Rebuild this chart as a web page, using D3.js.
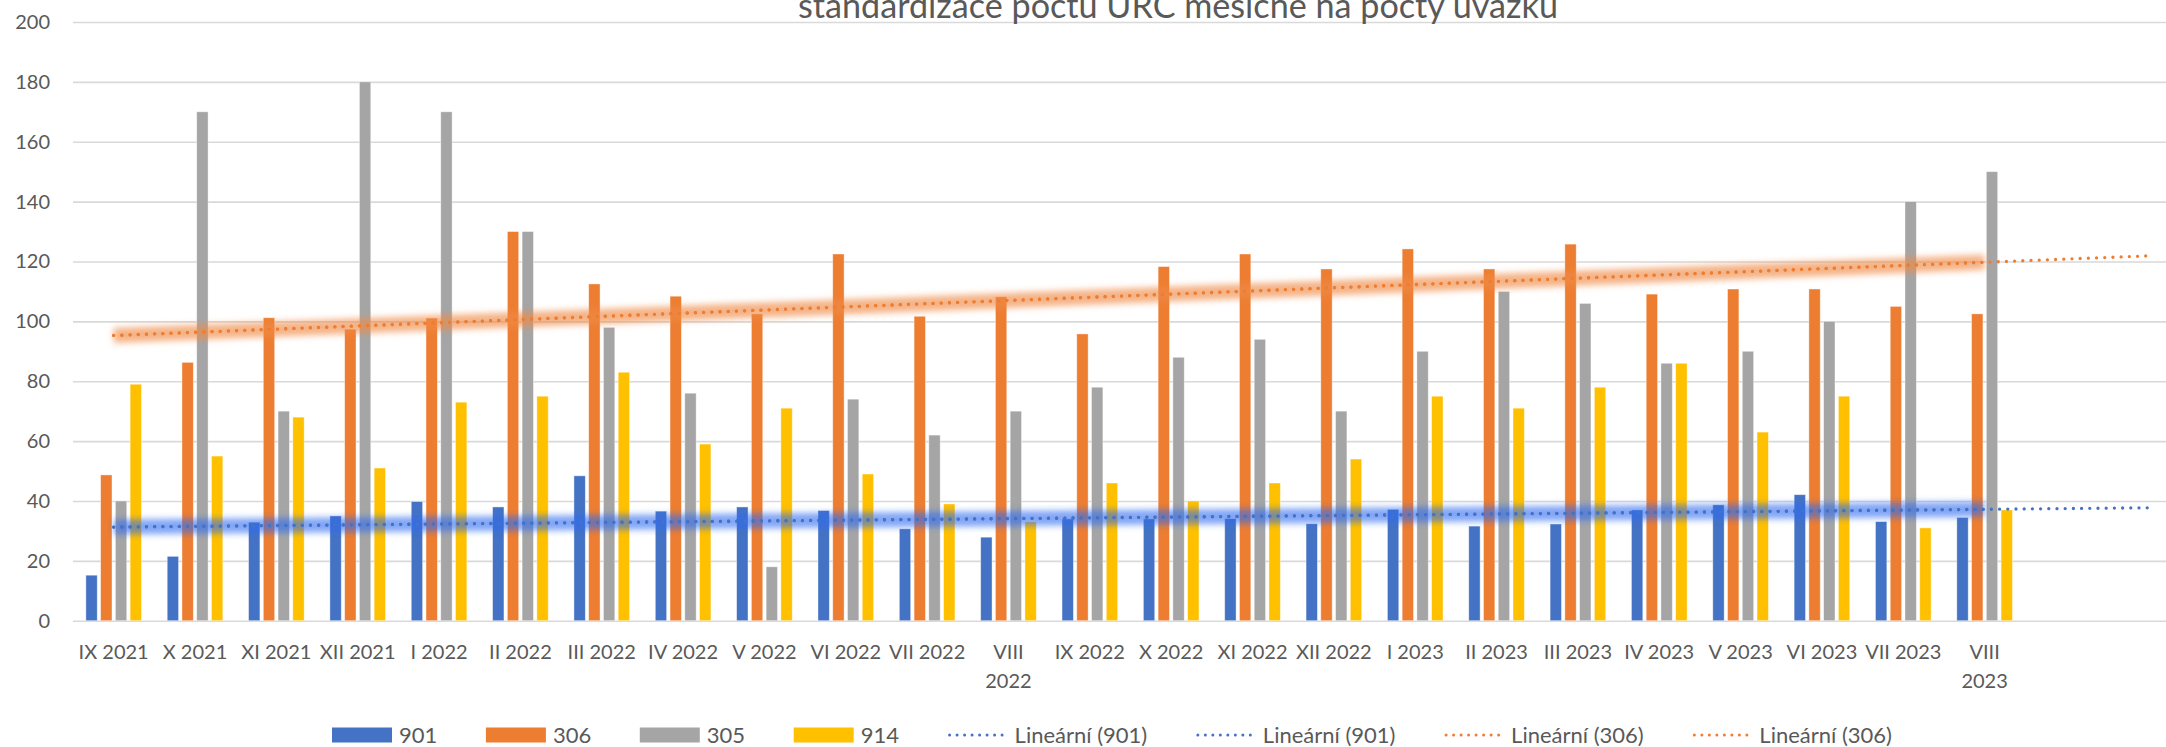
<!DOCTYPE html>
<html>
<head>
<meta charset="utf-8">
<script src="https://cdn.jsdelivr.net/npm/d3@7"></script>
<style>
  html, body { margin: 0; padding: 0; background: #ffffff; }
  svg { display: block; }
</style>
</head>
<body>
<svg id="chart" width="2166" height="747"></svg>
<script>
// ---------- data ----------
const chartTitle = "standardizace poctu URC mesicne na pocty uvazku";
const categories = ["IX 2021","X 2021","XI 2021","XII 2021","I 2022","II 2022","III 2022","IV 2022","V 2022","VI 2022","VII 2022","VIII 2022","IX 2022","X 2022","XI 2022","XII 2022","I 2023","II 2023","III 2023","IV 2023","V 2023","VI 2023","VII 2023","VIII 2023"];
const seriesNames = ["901","306","305","914"];
const values901 = [15.2,21.5,32.9,35.0,39.8,38.0,48.4,36.6,38.0,36.8,30.7,27.9,34.0,34.0,34.1,32.4,37.2,31.6,32.3,37.0,38.7,42.1,33.1,34.5];
const values306 = [48.7,86.3,101.2,97.4,101.1,130.0,112.5,108.4,102.5,122.5,101.7,108.2,95.8,118.3,122.5,117.5,124.2,117.5,125.8,109.1,110.8,110.8,105.0,102.5];
const values305 = [40,170,70,180,170,130,98,76,18,74,62,70,78,88,94,70,90,110,106,86,90,100,140,150];
const values914 = [79,55,68,51,73,75,83,59,71,49,39,33,46,40,46,54,75,71,78,86,63,75,31,37];
const yTicks = [0,20,40,60,80,100,120,140,160,180,200];
const trendLabels = ["Lineární (901)","Lineární (901)","Lineární (306)","Lineární (306)"];
const forecastPeriods = 2;

// ---------- styles ----------
const colors = {"901":"#4472C4","306":"#ED7D31","305":"#A5A5A5","914":"#FFC000"};
const glowColors = {"901":"#2E6BF0","306":"#F08A45"};
const textColor = "#595959";
const fontFamily = "Lato, 'Open Sans', sans-serif";

const seriesValues = {"901":values901,"306":values306,"305":values305,"914":values914};

const svg = d3.select("#chart");
const plotLeft = 73, plotRight = 2188, plotTop = 22, plotBottom = 620.7;

const nSlots = categories.length + forecastPeriods;
const x0 = d3.scaleBand().domain(d3.range(nSlots)).range([plotLeft, plotRight]);
const y = d3.scaleLinear().domain([0,200]).range([plotBottom, plotTop]);
const groupW = 59;
const x1 = d3.scaleBand().domain(seriesNames).range([-groupW/2, groupW/2]).paddingInner(0.23).paddingOuter(0.115);

const defs = svg.append("defs");
const blur = defs.append("filter").attr("id","glow").attr("x","-5%").attr("y","-300%").attr("width","110%").attr("height","700%");
blur.append("feGaussianBlur").attr("stdDeviation", 3.4);

// gridlines + y labels
const yAxis = svg.append("g")
  .attr("transform", `translate(${plotLeft},0)`)
  .call(d3.axisLeft(y).tickValues(yTicks).tickSize(-(plotRight - plotLeft)).tickPadding(23));
yAxis.select(".domain").remove();
yAxis.selectAll(".tick line").attr("stroke","#D9D9D9").attr("stroke-width",1.6);
yAxis.selectAll(".tick text").attr("fill",textColor).attr("font-family",fontFamily).attr("font-size",20);

// bars
const groups = svg.append("g").selectAll("g")
  .data(categories.map((c,i)=>i))
  .join("g")
  .attr("transform", i => `translate(${x0(i) + x0.bandwidth()/2},0)`);
groups.selectAll("rect")
  .data(i => seriesNames.map(s => ({s, v: seriesValues[s][i]})))
  .join("rect")
  .attr("x", d => x1(d.s))
  .attr("width", x1.bandwidth())
  .attr("y", d => y(d.v))
  .attr("height", d => y(0) - y(d.v))
  .attr("fill", d => colors[d.s])
  .attr("stroke", "#ffffff").attr("stroke-opacity", 0.5).attr("stroke-width", 0.8);

// x labels
const xLab = svg.append("g");
categories.forEach((c,i) => {
  const cx = x0(i) + x0.bandwidth()/2;
  const t = xLab.append("text").attr("x", cx).attr("y", 659)
    .attr("text-anchor","middle").attr("fill",textColor)
    .attr("font-family",fontFamily).attr("font-size",20);
  if (c.length > 8) {
    const parts = c.split(" ");
    t.append("tspan").attr("x",cx).attr("dy",0).text(parts[0]);
    t.append("tspan").attr("x",cx).attr("dy",29).text(parts[1]);
  } else {
    t.text(c);
  }
});

// trendlines (least squares on the data)
function linReg(vals){
  const n = vals.length, xs = d3.range(n);
  const mx = d3.mean(xs), my = d3.mean(vals);
  let sxy=0, sxx=0;
  xs.forEach((xv,i)=>{ sxy += (xv-mx)*(vals[i]-my); sxx += (xv-mx)*(xv-mx); });
  const b = sxy/sxx; return {a: my - b*mx, b};
}
const line = d3.line().x(d => x0(d[0]) + x0.bandwidth()/2).y(d => y(d[1]));
const trendG = svg.append("g");
["306","901"].forEach(s => {
  const r = linReg(seriesValues[s]);
  const lastIdx = categories.length - 1;
  const ptsGlow = [[0, r.a],[lastIdx, r.a + r.b*lastIdx]];
  const ptsFwd = [[0, r.a],[lastIdx+forecastPeriods, r.a + r.b*(lastIdx+forecastPeriods)]];
  trendG.append("path").attr("d", line(ptsGlow)).attr("fill","none")
    .attr("stroke", glowColors[s]).attr("stroke-opacity", s==="901"?0.6:0.65)
    .attr("stroke-width", 15).attr("stroke-linecap","butt").attr("filter","url(#glow)");
  [ptsGlow, ptsFwd].forEach(p => {
    trendG.append("path").attr("d", line(p)).attr("fill","none")
      .attr("stroke", colors[s]).attr("stroke-width", 3.3)
      .attr("stroke-linecap","round").attr("stroke-dasharray","0 8.2");
  });
});

// title
const title = svg.append("text").attr("x", 1178).attr("y", 18)
  .attr("text-anchor","middle").attr("fill",textColor)
  .attr("font-family",fontFamily).attr("font-size",30).text(chartTitle);
const tw = title.node().getComputedTextLength();
title.attr("font-size", 30 * 760 / tw);

// legend
const legend = svg.append("g");
const items = seriesNames.map(s => ({type:"rect", color: colors[s], label: s}))
  .concat(trendLabels.map((l,i) => ({type:"line", color: i<2 ? colors["901"] : colors["306"], label: l})));
const ly = 735, legendFont = 22, swW = 60, textGap = 7, legendSpan = 1560, legendCenter = 1112;
const nodes = items.map(it => {
  const g = legend.append("g");
  if (it.type === "rect") {
    g.append("rect").attr("x",0).attr("y",ly-7.5).attr("width",swW).attr("height",15).attr("fill",it.color);
  } else {
    g.append("line").attr("x1",2).attr("x2",swW-2).attr("y1",ly).attr("y2",ly)
      .attr("stroke",it.color).attr("stroke-width",3).attr("stroke-linecap","round").attr("stroke-dasharray","0 7.5");
  }
  const t = g.append("text").attr("x", swW+textGap).attr("y", ly+7.5).attr("fill",textColor)
    .attr("font-family",fontFamily).attr("font-size",legendFont).text(it.label);
  return {g, w: swW + textGap + t.node().getComputedTextLength()};
});
const used = d3.sum(nodes, n => n.w);
const itemGap = (legendSpan - used) / (nodes.length - 1);
let lx = legendCenter - legendSpan/2;
nodes.forEach(n => { n.g.attr("transform", `translate(${lx},0)`); lx += n.w + itemGap; });
</script>
</body>
</html>
